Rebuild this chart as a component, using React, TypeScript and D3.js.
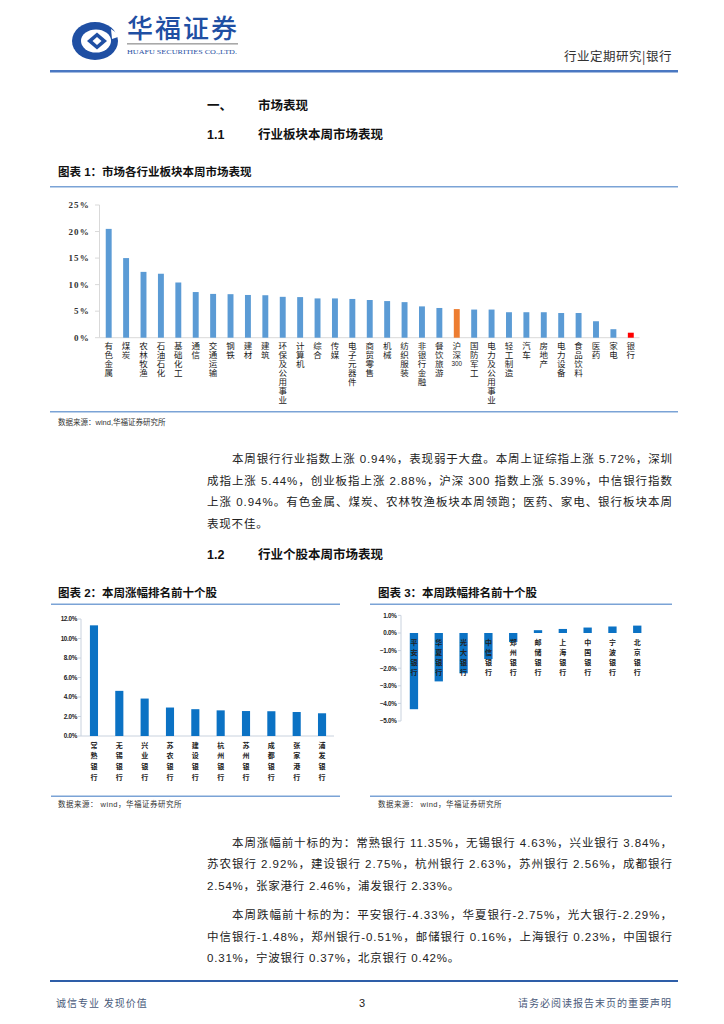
import React from "react";
import * as d3 from "d3";

// ---------- Data ----------
const industries = ["有色金属","煤炭","农林牧渔","石油石化","基础化工","通信","交通运输","钢铁","建材","建筑","环保及公用事业","计算机","综合","传媒","电子元器件","商贸零售","机械","纺织服装","非银行金融","餐饮旅游","沪深300","国防军工","电力及公用事业","轻工制造","汽车","房地产","电力设备","食品饮料","医药","家电","银行"];
const industryReturns = [20.5,15.0,12.4,12.05,10.4,8.6,8.25,8.2,8.05,8.0,7.7,7.65,7.4,7.4,7.3,7.1,6.9,6.7,5.9,5.6,5.39,5.3,5.3,4.8,4.8,4.8,4.65,4.65,3.1,1.6,0.94];
const industryTicks = [0,5,10,15,20,25];

const gainers = ["常熟银行","无锡银行","兴业银行","苏农银行","建设银行","杭州银行","苏州银行","成都银行","张家港行","浦发银行"];
const gainerReturns = [11.35,4.63,3.84,2.92,2.75,2.63,2.56,2.54,2.46,2.33];
const gainerTicks = [0,2,4,6,8,10,12];

const losers = ["平安银行","华夏银行","光大银行","中信银行","郑州银行","邮储银行","上海银行","中国银行","宁波银行","北京银行"];
const loserReturns = [-4.33,-2.75,-2.29,-1.48,-0.51,0.16,0.23,0.31,0.37,0.42];
const loserTicks = [1,0,-1,-2,-3,-4,-5];

const para1 = [
  "本周银行行业指数上涨 0.94%，表现弱于大盘。本周上证综指上涨 5.72%，深圳",
  "成指上涨 5.44%，创业板指上涨 2.88%，沪深 300 指数上涨 5.39%，中信银行指数",
  "上涨 0.94%。有色金属、煤炭、农林牧渔板块本周领跑；医药、家电、银行板块本周",
  "表现不佳。",
];
const para2 = [
  "本周涨幅前十标的为：常熟银行 11.35%，无锡银行 4.63%，兴业银行 3.84%，",
  "苏农银行 2.92%，建设银行 2.75%，杭州银行 2.63%，苏州银行 2.56%，成都银行",
  "2.54%，张家港行 2.46%，浦发银行 2.33%。",
];
const para3 = [
  "本周跌幅前十标的为：平安银行-4.33%，华夏银行-2.75%，光大银行-2.29%，",
  "中信银行-1.48%，郑州银行-0.51%，邮储银行 0.16%，上海银行 0.23%，中国银行",
  "0.31%，宁波银行 0.37%，北京银行 0.42%。",
];

const CJK = "'Liberation Sans', 'Noto Sans CJK SC', sans-serif";
const BLUE_LINE = "#7ba3d6";

function Paragraph({ lines, y0 }: { lines: string[]; y0: number }) {
  const lh = 21.5;
  return (
    <g fontFamily={CJK} fontSize={11.5} fill="#222">
      {lines.map((l, i) => {
        const x = i === 0 ? 232 : 207;
        const last = i === lines.length - 1;
        return last ? (
          <text key={i} x={x} y={y0 + i * lh} letterSpacing={0.8}>{l}</text>
        ) : (
          <text key={i} x={x} y={y0 + i * lh} textLength={672 - x} lengthAdjust="spacing">{l}</text>
        );
      })}
    </g>
  );
}

// vertical label: CJK part stacked with writing-mode, trailing digits as a small horizontal block
function VLabel({ label, cx, top, size, step, weight }: { label: string; cx: number; top: number; size: number; step: number; weight: number }) {
  const m = label.match(/^(\D*)(\d*)$/);
  const cjk = m ? m[1] : label;
  const num = m ? m[2] : "";
  return (
    <g>
      <text
        x={cx}
        y={top}
        style={{ writingMode: "vertical-rl" } as any}
        fontFamily="'Noto Sans CJK SC'"
        fontWeight={weight}
        fontSize={size}
        letterSpacing={step - size}
        fill="#222"
      >
        {cjk}
      </text>
      {num && (
        <text x={cx} y={top + cjk.length * step + size * 0.75} textAnchor="middle" fontFamily="'Liberation Sans'" fontSize={size * 0.75} fill="#222">{num}</text>
      )}
    </g>
  );
}

function Logo() {
  return (
    <g>
      <ellipse cx={95} cy={41} rx={23} ry={19} fill="#1f4fa3" />
      <ellipse cx={96} cy={41} rx={15} ry={11.5} fill="#fff" />
      <path d="M111,29 L121,36 L112,39 Z" fill="#fff" />
      <path d="M87,41 L97,32.5 L107,41 L97,49.5 Z" fill="#1f4fa3" />
      <path d="M92.5,41 L97,37 L101.5,41 L97,45 Z" fill="#fff" />
      <text x={127} y={38} fontFamily="'Noto Sans CJK SC'" fontWeight={500} fontSize={26} fill="#1f4fa3" textLength={110} lengthAdjust="spacing">华福证券</text>
      <rect x={127} y={43} width={111} height={1.6} fill="#a9a9a9" />
      <text x={127} y={53.5} fontFamily="'Liberation Serif'" fontSize={7} fill="#1f4fa3" textLength={110} lengthAdjust="spacingAndGlyphs">HUAFU SECURITIES CO.,LTD.</text>
    </g>
  );
}

function Chart1() {
  const x = d3.scaleBand<string>().domain(industries).range([100, 639.5]).paddingInner(0.66).paddingOuter(0.33);
  const y = d3.scaleLinear().domain([0, 25]).range([337.7, 205]);
  const color = (c: string) => (c === "沪深300" ? "#ed7d31" : c === "银行" ? "#ff0000" : "#5b9bd5");
  return (
    <g>
      <line x1={99.5} x2={99.5} y1={y(25)} y2={y(0)} stroke="#d9d9d9" />
      <line x1={99.5} x2={639.5} y1={y(0)} y2={y(0)} stroke="#d9d9d9" />
      {industryTicks.map((t) => (
        <g key={t}>
          <line x1={95} x2={99.5} y1={y(t)} y2={y(t)} stroke="#d9d9d9" />
          <text x={90} y={y(t) + 3} textAnchor="end" fontFamily="'Liberation Serif'" fontWeight={700} fontSize={9} letterSpacing={1.2} fill="#333">{t}%</text>
        </g>
      ))}
      {industries.map((c, i) => (
        <rect key={c} x={x(c)!} y={y(industryReturns[i])} width={x.bandwidth()} height={y(0) - y(industryReturns[i])} fill={color(c)} />
      ))}
      {industries.map((c) => (
        <VLabel key={c} label={c} cx={x(c)! + x.bandwidth() / 2} top={342} size={8.5} step={8.9} weight={400} />
      ))}
    </g>
  );
}

function Chart2() {
  const x = d3.scaleBand<string>().domain(gainers).range([81.3, 334.7]).paddingInner(0.68).paddingOuter(0.34);
  const y = d3.scaleLinear().domain([0, 12]).range([736, 619]);
  return (
    <g>
      <line x1={81} x2={81} y1={y(12)} y2={y(0)} stroke="#c9d2de" />
      <line x1={81} x2={334} y1={y(0)} y2={y(0)} stroke="#c9d2de" />
      {gainerTicks.map((t) => (
        <g key={t}>
          <line x1={78} x2={81} y1={y(t)} y2={y(t)} stroke="#c9d2de" />
          <text x={77} y={y(t) + 2.3} textAnchor="end" fontFamily="'Liberation Sans'" fontWeight={700} fontSize={6.3} letterSpacing={-0.3} fill="#222">{d3.format(".1f")(t)}%</text>
        </g>
      ))}
      {gainers.map((c, i) => (
        <rect key={c} x={x(c)!} y={y(gainerReturns[i])} width={x.bandwidth()} height={y(0) - y(gainerReturns[i])} fill="#0b72c4" />
      ))}
      {gainers.map((c) => (
        <VLabel key={c} label={c} cx={x(c)! + x.bandwidth() / 2} top={741.5} size={7} step={10.8} weight={700} />
      ))}
    </g>
  );
}

function Chart3() {
  const x = d3.scaleBand<string>().domain(losers).range([401.6, 649.6]).paddingInner(0.665).paddingOuter(0.33);
  const y = d3.scaleLinear().domain([-5, 1]).range([721, 615.4]);
  return (
    <g>
      <line x1={401} x2={401} y1={y(1)} y2={y(-5)} stroke="#c9d2de" />
      {loserTicks.map((t) => (
        <g key={t}>
          <line x1={398} x2={401} y1={y(t)} y2={y(t)} stroke="#c9d2de" />
          <text x={396.5} y={y(t) + 2.3} textAnchor="end" fontFamily="'Liberation Sans'" fontWeight={700} fontSize={6.3} letterSpacing={-0.3} fill="#222">{d3.format(".1f")(t)}%</text>
        </g>
      ))}
      {losers.map((c, i) => {
        const v = loserReturns[i];
        return (
          <rect key={c} x={x(c)!} y={Math.min(y(v), y(0))} width={x.bandwidth()} height={Math.abs(y(v) - y(0))} fill="#0b72c4" />
        );
      })}
      {losers.map((c) => (
        <VLabel key={c} label={c} cx={x(c)! + x.bandwidth() / 2} top={639} size={7} step={10} weight={700} />
      ))}
    </g>
  );
}

export default function App() {
  return (
    <svg width={724} height={1024} viewBox="0 0 724 1024" style={{ position: "absolute", left: 0, top: 0, background: "#fff" }}>
      <rect width={724} height={1024} fill="#fff" />
      <Logo />
      <text x={672} y={61} textAnchor="end" fontFamily="'Noto Sans CJK SC'" fontSize={12.5} fill="#333" letterSpacing={0.5}>行业定期研究|银行</text>
      <rect x={50} y={70} width={628} height={2.5} fill="#4a78c2" />

      <g fontFamily={CJK} fontWeight={700} fontSize={12.5} fill="#111">
        <text x={207} y={110}>一、</text>
        <text x={258} y={110}>市场表现</text>
        <text x={207} y={139}>1.1</text>
        <text x={258} y={139}>行业板块本周市场表现</text>
        <text x={207} y={559}>1.2</text>
        <text x={258} y={559}>行业个股本周市场表现</text>
      </g>

      <text x={58} y={176} fontFamily={CJK} fontWeight={700} fontSize={11.5} fill="#111">图表 1：市场各行业板块本周市场表现</text>
      <rect x={50} y={186} width={628} height={1.5} fill={BLUE_LINE} />
      <Chart1 />
      <rect x={50} y={411} width={628} height={1.5} fill={BLUE_LINE} />
      <text x={58} y={425} fontFamily={CJK} fontSize={7.5} fill="#333">数据来源：wind,华福证券研究所</text>

      <Paragraph lines={para1} y0={463} />

      <text x={58} y={597} fontFamily={CJK} fontWeight={700} fontSize={11.5} fill="#111">图表 2：本周涨幅排名前十个股</text>
      <rect x={51} y={603.5} width={289} height={1.5} fill={BLUE_LINE} />
      <Chart2 />
      <rect x={51} y={795.5} width={289} height={1.5} fill={BLUE_LINE} />
      <text x={58} y={807} fontFamily={CJK} fontSize={7.5} fill="#333" letterSpacing={0.5}>数据来源： wind，华福证券研究所</text>

      <text x={378} y={597} fontFamily={CJK} fontWeight={700} fontSize={11.5} fill="#111">图表 3：本周跌幅排名前十个股</text>
      <rect x={370} y={603.5} width={302} height={1.5} fill={BLUE_LINE} />
      <Chart3 />
      <rect x={370} y={795.5} width={302} height={1.5} fill={BLUE_LINE} />
      <text x={378} y={807} fontFamily={CJK} fontSize={7.5} fill="#333" letterSpacing={0.5}>数据来源： wind，华福证券研究所</text>

      <Paragraph lines={para2} y0={846.5} />
      <Paragraph lines={para3} y0={919} />

      <rect x={50} y={980} width={628} height={2} fill="#2e5ea8" />
      <text x={56} y={1007} fontFamily={CJK} fontSize={10} fill="#4a5a7a" letterSpacing={1}>诚信专业   发现价值</text>
      <text x={362} y={1007} textAnchor="middle" fontFamily="'Liberation Sans'" fontSize={11} fill="#222">3</text>
      <text x={672} y={1007} textAnchor="end" fontFamily={CJK} fontSize={10} fill="#4a5a7a" letterSpacing={1}>请务必阅读报告末页的重要声明</text>
    </svg>
  );
}
